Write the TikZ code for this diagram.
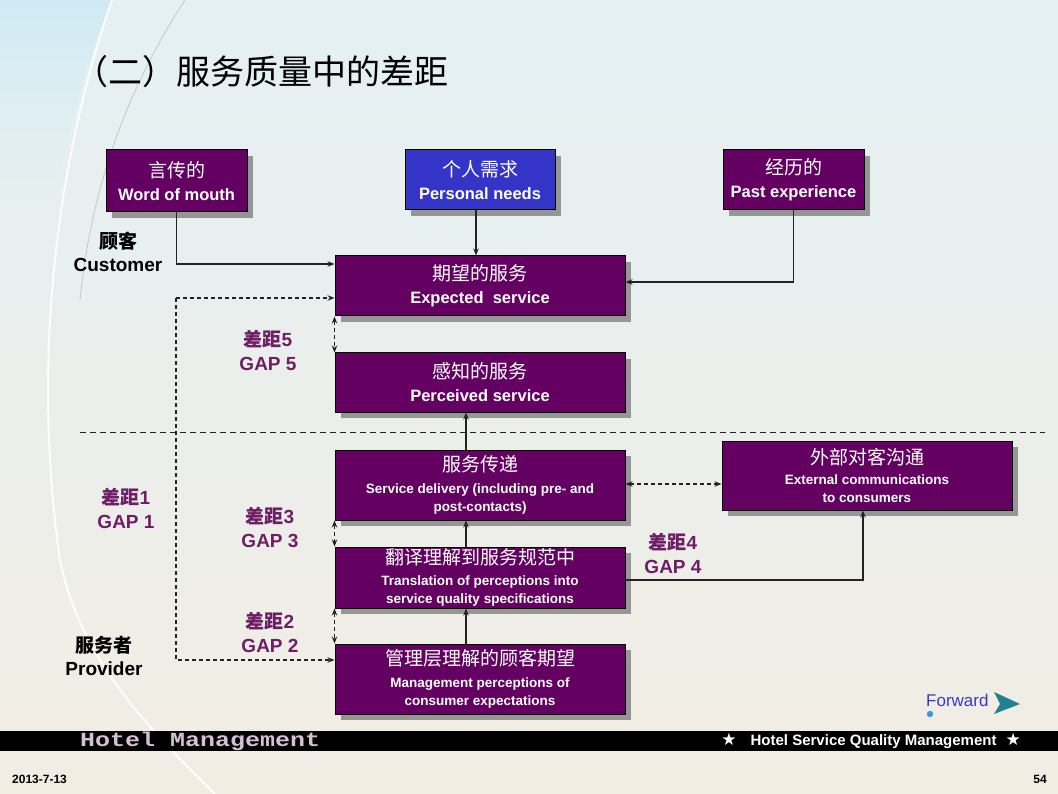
\documentclass[tikz,border=0pt]{standalone}
\usepackage{fontspec}
\usepackage{graphicx}
\setmainfont{Liberation Sans}
\newfontfamily\cjk{Noto Sans CJK SC}
\newfontfamily\symf{DejaVu Sans}
\newfontfamily\monof{Liberation Mono}
\usetikzlibrary{arrows.meta,shadows,calc,fadings}
\definecolor{boxpurple}{HTML}{650063}
\definecolor{boxblue}{HTML}{3434C6}
\definecolor{gapcol}{HTML}{6E1E66}
\definecolor{linecol}{HTML}{222222}
\definecolor{fwdblue}{HTML}{3A3AC0}
\definecolor{fwdteal}{HTML}{23808E}
\definecolor{bgtop}{HTML}{E4F0F4}
\definecolor{bgbot}{HTML}{F2EDE3}
\definecolor{bgcyan}{HTML}{D0EAF3}
\newcommand{\zhbox}[1]{{\cjk\mdseries\fontsize{19}{23}\selectfont #1}}
\begin{document}
\begin{tikzpicture}[x=1pt,y=-1pt,
  box/.style={draw=black, line width=1pt, fill=boxpurple, text=white, align=center, inner sep=0pt,
    drop shadow={shadow xshift=6pt, shadow yshift=-6pt, fill=black!50, opacity=0.8}},
  twoline/.style={font=\bfseries\fontsize{16.5}{23}\selectfont},
  threeline/.style={font=\bfseries\fontsize{13.5}{18}\selectfont},
  conn/.style={draw=linecol, line width=1.1pt, -{Stealth[length=7pt,width=5.5pt]}},
  dconn/.style={conn, dash pattern=on 4pt off 3pt},
  dboth/.style={draw=linecol, line width=1.1pt, dash pattern=on 4pt off 3pt, {Stealth[length=7pt,width=5.5pt]}-{Stealth[length=7pt,width=5.5pt]}},
  gap/.style={text=gapcol, align=center, inner sep=0pt, font=\bfseries\fontsize{19}{24}\selectfont},
  side/.style={text=black, align=center, inner sep=0pt, font=\bfseries\fontsize{19}{23}\selectfont}
]
% background
\useasboundingbox (0,0) rectangle (1058,794);
\shade[top color=bgtop, bottom color=bgbot] (0,0) rectangle (1058,794);
\shade[top color=bgcyan, bottom color=bgtop, path fading=south] (0,0) -- (112,0) .. controls (80,80) and (60,160) .. (50,240) -- (0,240) -- cycle;
\draw[white, line width=2pt, opacity=0.9] (112,0) .. controls (60,150) and (30,350) .. (60,560) .. controls (80,660) and (150,730) .. (215,794);
\draw[gray!45, line width=0.8pt] (185,0) .. controls (120,100) and (90,200) .. (80,300);

% title
\node[anchor=west, inner sep=0pt, font=\cjk\fontsize{34}{34}\selectfont] (title) at (74,72) {（二）服务质量中的差距};

% boxes
\node[box, twoline, minimum width=141pt, minimum height=62pt] (wom) at (176.5,181)
  {\zhbox{言传的}\\Word of mouth};
\node[box, twoline, fill=boxblue, minimum width=150pt, minimum height=60pt] (pn) at (480,180)
  {\zhbox{个人需求}\\Personal needs};
\node[box, twoline, minimum width=141pt, minimum height=60pt] (pe) at (793.5,180)
  {\zhbox{经历的}\\Past experience};
\node[box, twoline, minimum width=290pt, minimum height=60pt] (es) at (480,286)
  {\zhbox{期望的服务}\\Expected\ \ service};
\node[box, twoline, minimum width=290pt, minimum height=59pt] (ps) at (480,382.5)
  {\zhbox{感知的服务}\\Perceived service};
\node[box, threeline, minimum width=290pt, minimum height=70pt] (sd) at (480,485)
  {\zhbox{服务传递}\\[4pt]Service delivery (including pre- and\\post-contacts)};
\node[box, threeline, minimum width=290pt, minimum height=61pt] (tr) at (480,577.5)
  {\zhbox{翻译理解到服务规范中}\\[3pt]Translation of perceptions into\\service quality specifications};
\node[box, threeline, minimum width=290pt, minimum height=70pt] (mg) at (480,679)
  {\zhbox{管理层理解的顾客期望}\\[4pt]Management perceptions of\\consumer expectations};
\node[box, threeline, minimum width=290pt, minimum height=69pt] (ec) at (867,475.5)
  {\zhbox{外部对客沟通}\\[2pt]External communications\\to consumers};

% side labels
\node[side] (cust) at (118,252) {{\cjk 顾客}\\Customer};
\node[side] (prov) at (104,656) {{\cjk 服务者}\\Provider};

% gap labels
\node[gap] (g5) at (268,350) {{\cjk 差距}5\\GAP 5};
\node[gap] (g1) at (126,508) {{\cjk 差距}1\\GAP 1};
\node[gap] (g3) at (270,527) {{\cjk 差距}3\\GAP 3};
\node[gap] (g4) at (673,553) {{\cjk 差距}4\\GAP 4};
\node[gap] (g2) at (270,632) {{\cjk 差距}2\\GAP 2};

% separator
\coordinate (sepL) at (80,432);
\coordinate (sepR) at (1045,432);
\draw[linecol, line width=1pt, dash pattern=on 6pt off 4pt] (sepL) -- (sepR);

% connectors
\draw[conn] (wom.south) |- ([yshift=22pt]es.west);
\draw[conn] (pn.south -| 476,0) -- (es.north -| 476,0);
\draw[conn] (pe.south) |- ([yshift=4pt]es.east);
\coordinate (dtop) at (176,298);
\coordinate (dbot) at (176,660);
\draw[dconn] (dtop) -- (es.west |- dtop);
\draw[dconn] (dtop) -- (dbot) -- (mg.west |- dbot);
\draw[dboth] (es.south west) -- (ps.north west);
\draw[dboth] (sd.south west) -- (tr.north west);
\draw[dboth] (tr.south west) -- (mg.north west);
\draw[conn] ([xshift=-14pt]sd.north) -- ([xshift=-14pt]ps.south);
\draw[conn] ([xshift=-14pt]tr.north) -- ([xshift=-14pt]sd.south);
\draw[conn] ([xshift=-14pt]mg.north) -- ([xshift=-14pt]tr.south);
\draw[dboth] ([yshift=1pt]sd.east) -- ([yshift=1pt]sd.east -| ec.west);
\draw[conn] ([yshift=-2.5pt]tr.east) -| ([xshift=-4pt]ec.south);

% forward button
\node[anchor=west, inner sep=0pt, text=fwdblue, font=\fontsize{17}{17}\selectfont] (fwd) at (926,700) {Forward};
\fill[fwdteal] (994,692) -- (1020,704) -- (994,714) -- (1000,704) -- cycle;
\fill[cyan!70!blue!80] (930,714) circle (3.2);

% bottom bar
\fill[black] (0,731) rectangle (1058,751);
\node[anchor=west, inner sep=0pt, text=black!25!violet!25!white, font=\monof\bfseries\fontsize{20}{20}\selectfont] (hm) at (80,741) {\scalebox{1.25}[1]{Hotel Management}};
\node[anchor=east, inner sep=0pt, text=white, font=\bfseries\fontsize{15}{15}\selectfont] (hsqm) at (1021,741) {{\symf\fontsize{17}{17}\selectfont ★}\hspace{14pt}Hotel Service Quality Management\hspace{9pt}{\symf\fontsize{17}{17}\selectfont ★}};
\node[anchor=west, inner sep=0pt, font=\bfseries\fontsize{12}{12}\selectfont] (date) at (12,779) {2013-7-13};
\node[anchor=east, inner sep=0pt, font=\bfseries\fontsize{12}{12}\selectfont] (pg) at (1047,779) {54};
\end{tikzpicture}
\end{document}
